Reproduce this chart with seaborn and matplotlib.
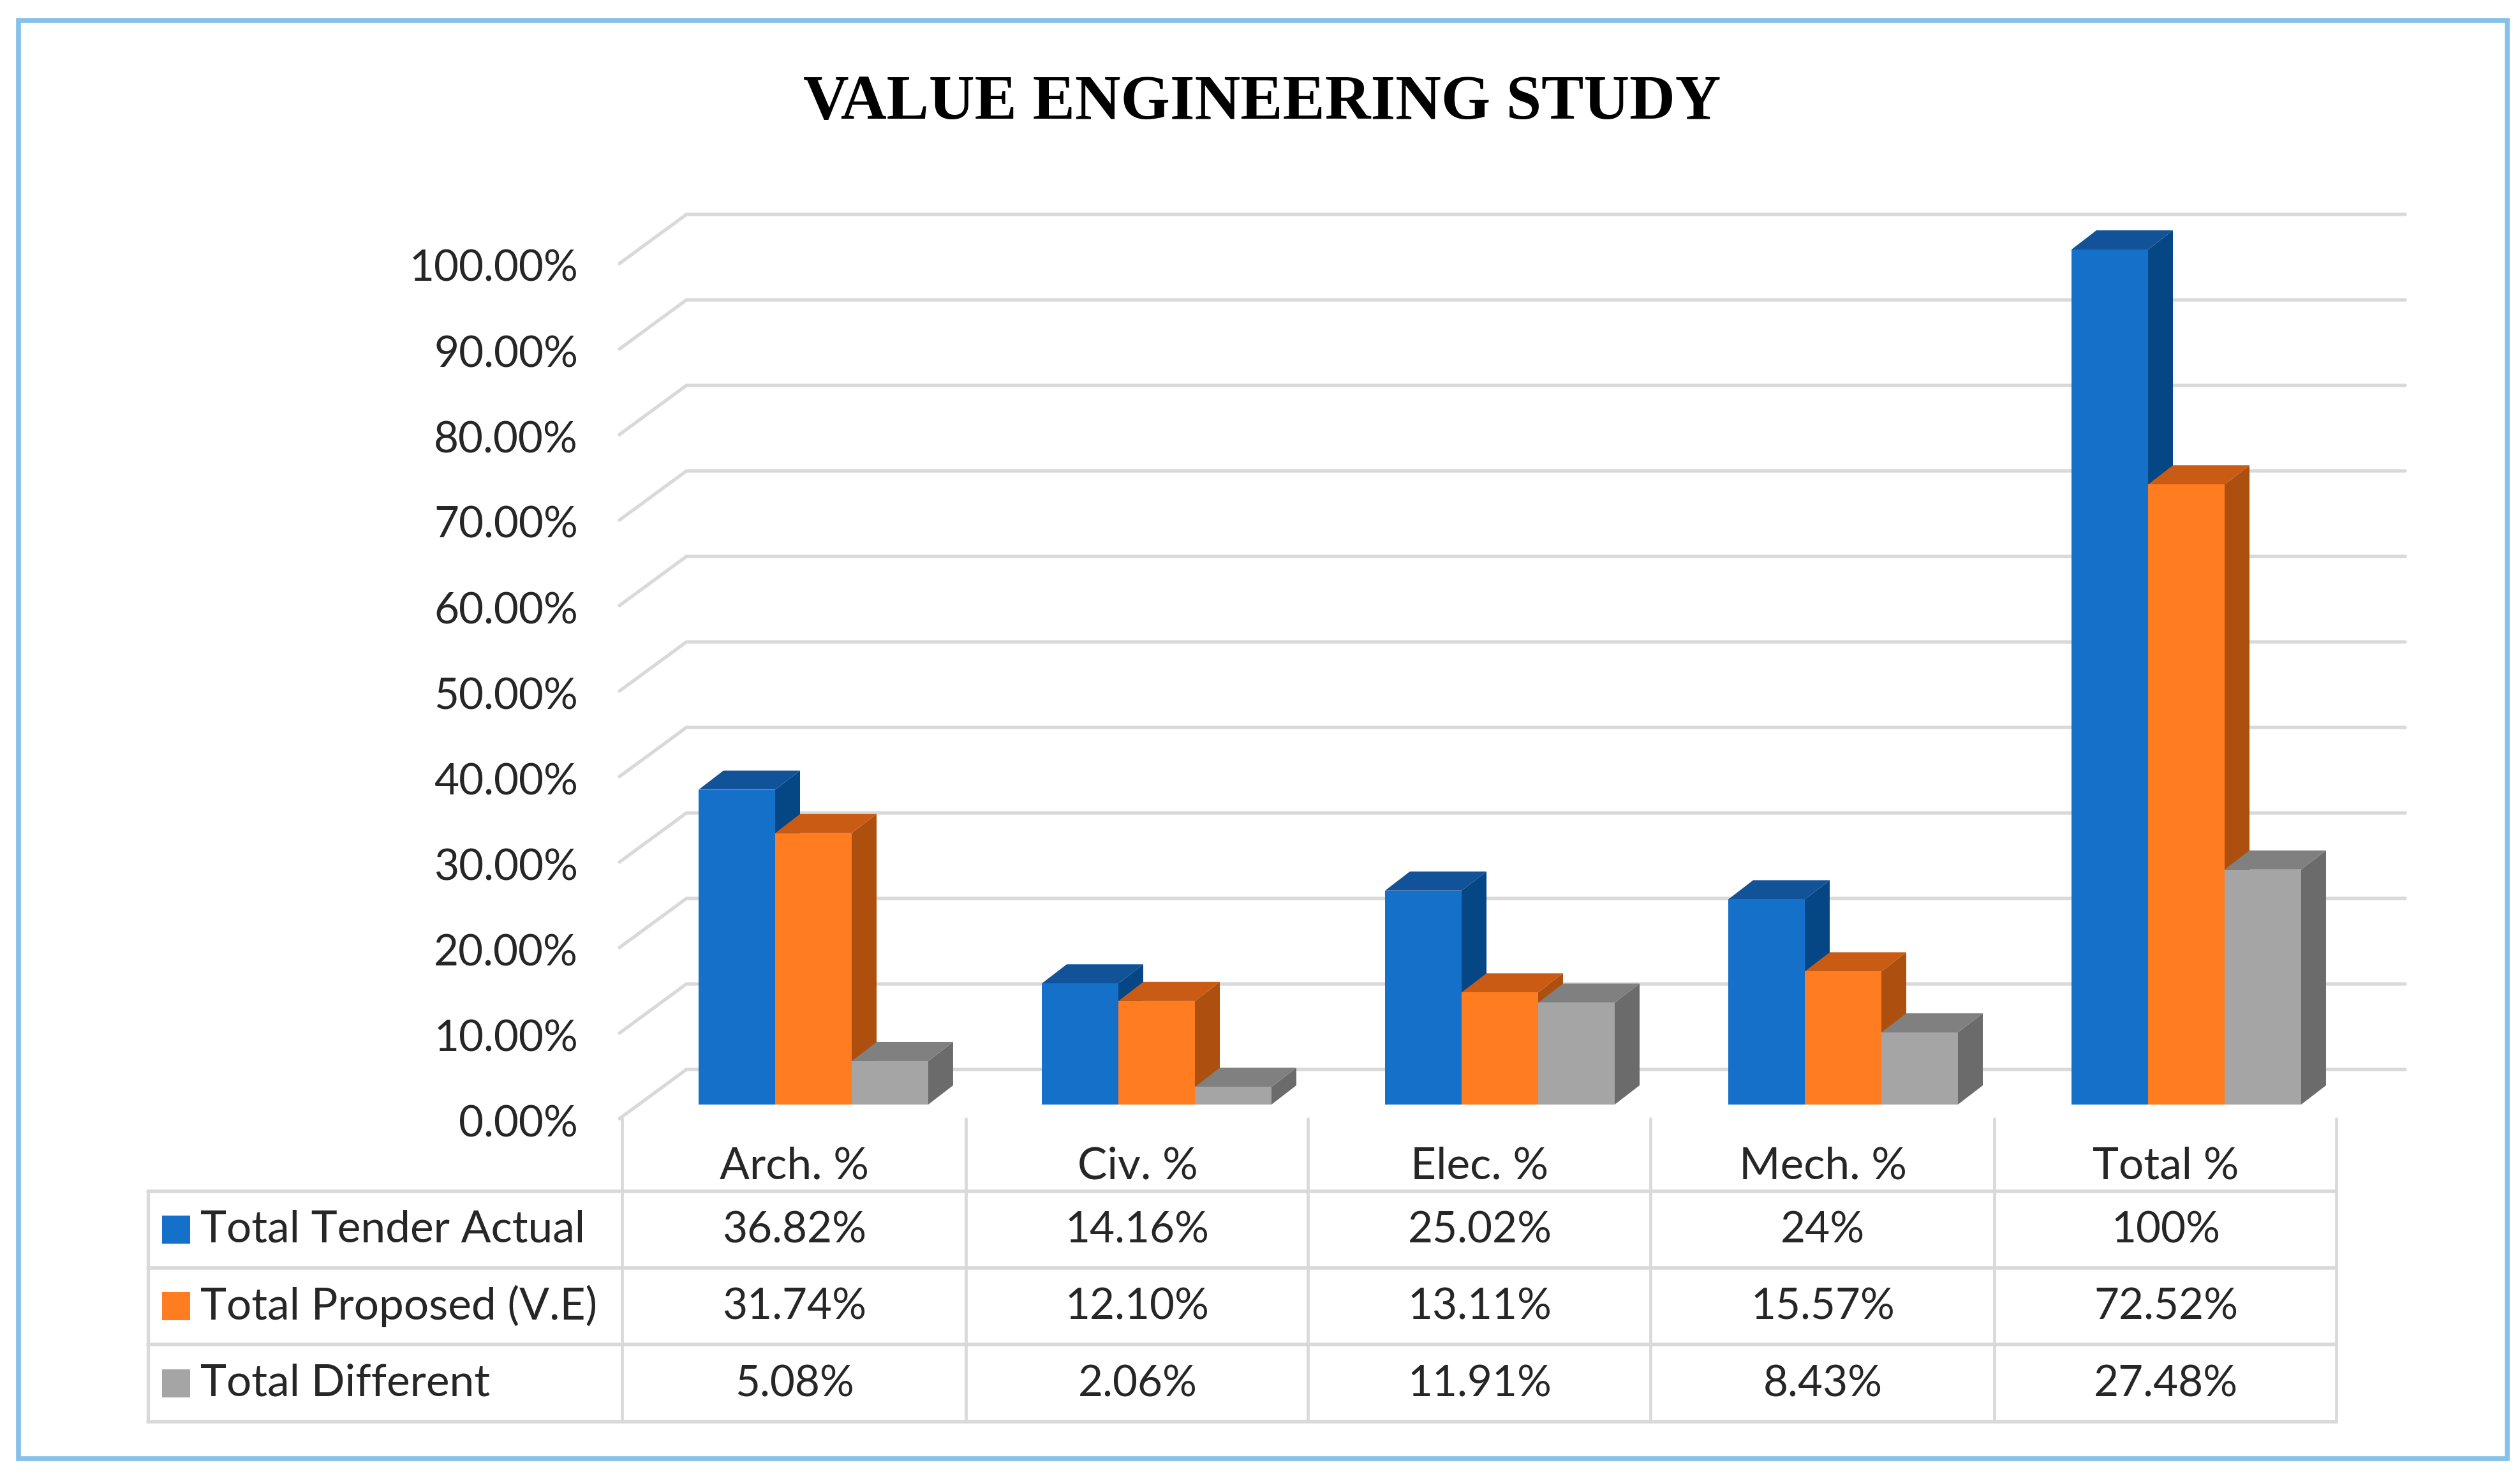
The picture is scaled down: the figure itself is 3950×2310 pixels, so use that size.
import pandas as pd
import matplotlib.pyplot as plt
import seaborn as sns
from matplotlib.patches import Rectangle

# -----------------------
# Data
# -----------------------
categories = ["Arch. %", "Civ. %", "Elec. %", "Mech. %", "Total %"]
series_names = ["Total Tender Actual", "Total Proposed (V.E)", "Total Different"]
tender_actual = [36.82, 14.16, 25.02, 24.0, 100.0]
proposed_ve = [31.74, 12.10, 13.11, 15.57, 72.52]
different = [5.08, 2.06, 11.91, 8.43, 27.48]
table_actual = ["36.82%", "14.16%", "25.02%", "24%", "100%"]
table_proposed = ["31.74%", "12.10%", "13.11%", "15.57%", "72.52%"]
table_different = ["5.08%", "2.06%", "11.91%", "8.43%", "27.48%"]
y_ticks = [0, 10, 20, 30, 40, 50, 60, 70, 80, 90, 100]

front_colors = ["#1570CA", "#FF7C20", "#A5A5A5"]
side_colors = ["#054684", "#AD4F0F", "#6B6B6B"]
top_colors = ["#125299", "#C95B14", "#808080"]
grid_color = "#D9D9D9"
text_color = "#262626"
border_color = "#85C1E9"

W, H = 3950, 2310

# -----------------------
# Figure, one axes in pixels for the frame and table, one for the bars
# -----------------------
sns.set_theme(style="white")
plt.rcParams["font.family"] = ["Lato", "DejaVu Sans"]

fig = plt.figure(figsize=(W / 100, H / 100), dpi=100, facecolor="white")

chrome = fig.add_axes([0, 0, 1, 1], zorder=0)
chrome.set_xlim(0, W)
chrome.set_ylim(H, 0)
chrome.axis("off")

# plot area in pixels: y=0 at 1731, y=100 at 391, one category is 538 wide
left, right, base, top = 1006, 3696, 1731, 391
ax = fig.add_axes([left / W, 1 - base / H, (right - left) / W, (base - top) / H], zorder=1)
ax.patch.set_alpha(0)

df = pd.DataFrame({
    "category": categories * 3,
    "series": [n for n in series_names for _ in categories],
    "value": tender_actual + proposed_ve + different,
})
sns.barplot(data=df, x="category", y="value", hue="series", palette=front_colors,
            width=0.669, gap=0, saturation=1, legend=False, linewidth=0, ax=ax)
ax.set_xlim(-0.5, 4.5)
ax.set_ylim(0, 100)
ax.axis("off")

px_x = 1 / 538.0
px_y = 100 / 1340.0

# fake 3D sides and tops, from the bars seaborn drew
bar_dx, bar_dy = 39 * px_x, 30 * px_y
for j, container in enumerate(ax.containers):
    for bar in container:
        x0 = bar.get_x()
        x1 = x0 + bar.get_width()
        h = bar.get_height()
        bar.set_zorder(3 + j + 0.5)
        ax.fill([x1, x1 + bar_dx, x1 + bar_dx, x1], [0, bar_dy, h + bar_dy, h],
                color=side_colors[j], lw=0, zorder=3 + j, clip_on=False)
        ax.fill([x0, x0 + bar_dx, x1 + bar_dx, x1], [h, h + bar_dy, h + bar_dy, h],
                color=top_colors[j], lw=0, zorder=3 + j, clip_on=False)

# back wall gridlines with the slanted piece on the side wall
wall_front_x = -0.5 - 35 * px_x
wall_back_x = -0.5 + 70 * px_x
grid_end_x = 4.5 + 74 * px_x
front_dy = -22 * px_y
back_dy = 55 * px_y
for t in y_ticks:
    ax.plot([wall_front_x, wall_back_x, grid_end_x],
            [t + front_dy, t + back_dy, t + back_dy],
            color=grid_color, lw=3.8, zorder=1, clip_on=False,
            solid_joinstyle="miter")
    ax.text(wall_front_x - 65 * px_x, t + front_dy - 3 * px_y, f"{t:.2f}%", ha="right",
            va="center_baseline", fontsize=48.5, color=text_color)

# -----------------------
# Table under the chart
# -----------------------
col_edges = [975, 1514, 2050, 2587, 3126, 3662]
row_edges = [1867, 1987, 2107, 2228]
header_y = 1822
table_left = 232
text_lift = 4

for x in col_edges:
    chrome.plot([x, x], [1753, row_edges[-1]], color=grid_color, lw=3.4)
chrome.plot([table_left, table_left], [row_edges[0], row_edges[-1]], color=grid_color, lw=3.8)
for y in row_edges:
    chrome.plot([table_left, col_edges[-1]], [y, y], color=grid_color, lw=4.0)

rows = [table_actual, table_proposed, table_different]
for i, name in enumerate(categories):
    cx = (col_edges[i] + col_edges[i + 1]) / 2
    chrome.text(cx + 1, header_y, name, ha="center", va="center_baseline", fontsize=50, color=text_color)
    for r, labels in enumerate(rows):
        cy = (row_edges[r] + row_edges[r + 1]) / 2 - text_lift
        chrome.text(cx + 1, cy, labels[i], ha="center", va="center_baseline", fontsize=48.5, color=text_color)

for r, name in enumerate(series_names):
    cy = (row_edges[r] + row_edges[r + 1]) / 2
    chrome.add_patch(Rectangle((254, cy - 22), 44, 44, color=front_colors[r], lw=0))
    chrome.text(314, cy - 6, name, ha="left", va="center_baseline", fontsize=50, color=text_color)

# -----------------------
# Title and outer frame
# -----------------------
chrome.text(1978, 151, "VALUE ENGINEERING STUDY", ha="center", va="center_baseline",
            fontsize=71.5, fontweight="bold", family=["Liberation Serif"], color="black")
chrome.add_patch(Rectangle((29, 32), 3901, 2254, fill=False, edgecolor=border_color, lw=5.5))

fig.savefig("out.png", dpi=100)
